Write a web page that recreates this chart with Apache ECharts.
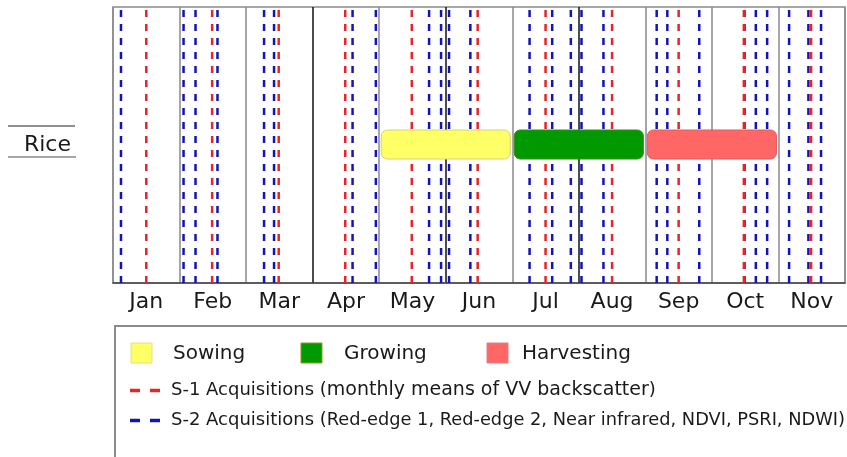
<!DOCTYPE html>
<html>
<head>
<meta charset="utf-8">
<script src="https://cdn.jsdelivr.net/npm/echarts@6.0.0/dist/echarts.min.js"></script>
<style>
  html, body { margin: 0; padding: 0; background: #fff; }
  #chart { width: 847px; height: 457px; }
</style>
</head>
<body>
<div id="chart"></div>
<script>
const chartDom = document.getElementById('chart')
const myChart = echarts.init(chartDom)

// months on the time line, crop row
const months = ['Jan', 'Feb', 'Mar', 'Apr', 'May', 'Jun', 'Jul', 'Aug', 'Sep', 'Oct', 'Nov']
const crops = ['Rice']

// acquisition dates, in months from 1 Jan
const s1Acq = [0.50, 1.49, 2.49, 3.49, 4.49, 5.48, 6.50, 7.50, 8.50, 9.48, 10.49]
const s2Acq = [0.12, 1.06, 1.24, 1.57, 2.27, 2.42, 3.60, 3.95, 4.75, 4.93, 5.05, 5.37,
               6.26, 6.60, 6.88, 7.04, 7.37, 8.17, 8.33, 8.81, 9.49, 9.66, 9.83,
               10.16, 10.45, 10.64]

// crop stages
const stageNames = ['Sowing', 'Growing', 'Harvesting']
const stageStart = [4, 6, 8]
const stageEnd = [6, 8, 10]

const stageColors = ['#ffff66', '#009900', '#ff6666']
const stageBorders = ['#d6d27a', '#3d8a1a', '#d86060']
const s1Color = '#e3262b'
const s2Color = '#1414b4'
const font = 'DejaVu Sans'

// gray / black month separators as in the original
const sepColors = ['#8a8a8a', '#8a8a8a', '#8a8a8a', '#111', '#8a8a8a', '#111',
                   '#8a8a8a', '#111', '#8a8a8a', '#8a8a8a', '#8a8a8a', '#8a8a8a']

function acqLine(color) {
    return function (params, api) {
        const x = api.coord([api.value(0), 0])[0]
        const cs = params.coordSys
        return {
            type: 'line',
            shape: { x1: x, y1: cs.y, x2: x, y2: cs.y + cs.height },
            style: { stroke: color, lineWidth: 2.5, lineDash: [7, 7], lineDashOffset: 11 }
        }
    }
}

function stageRect(params, api) {
    const p0 = api.coord([api.value(0), api.value(2)])
    const p1 = api.coord([api.value(1), api.value(2)])
    const i = params.dataIndex
    return {
        type: 'rect',
        shape: { x: p0[0] + 2, y: p0[1] - 15, width: p1[0] - p0[0] - 4, height: 29, r: 6 },
        style: { fill: stageColors[i], stroke: stageBorders[i], lineWidth: 1 }
    }
}

const stageData = stageNames.map((n, i) => [stageStart[i], stageEnd[i], 0, n])

const textColor = '#1a1a1a'

const option = {
    backgroundColor: '#fff',
    animation: false,
    grid: {
        left: 113, right: 2, top: 7, bottom: 174,
        show: true, borderColor: '#8a8a8a', borderWidth: 1.5
    },
    xAxis: [
        {
            type: 'category',
            data: months,
            boundaryGap: true,
            axisLine: { show: true, lineStyle: { color: '#444', width: 1.5 } },
            axisTick: { show: false },
            axisLabel: { fontFamily: font, fontSize: 22, color: textColor, margin: 8 },
            splitLine: { show: true, lineStyle: { color: sepColors, width: 1.5 } }
        },
        {
            type: 'value', min: 0, max: 11, show: false
        }
    ],
    yAxis: {
        type: 'category',
        data: crops,
        axisLine: { show: false },
        axisTick: { show: false },
        splitLine: { show: false },
        axisLabel: { fontFamily: font, fontSize: 22, color: textColor, margin: 42, padding: [0, 0, 4, 0] }
    },
    series: [
        {
            name: 'S-2 Acquisitions', type: 'custom', xAxisIndex: 1, z: 2,
            renderItem: acqLine(s2Color),
            data: s2Acq.map(v => [v, 0]),
            encode: { x: 0, y: 1 }
        },
        {
            name: 'S-1 Acquisitions', type: 'custom', xAxisIndex: 1, z: 2,
            renderItem: acqLine(s1Color),
            data: s1Acq.map(v => [v, 0]),
            encode: { x: 0, y: 1 }
        },
        {
            name: 'Stages', type: 'custom', xAxisIndex: 1, z: 3,
            renderItem: stageRect,
            data: stageData,
            encode: { x: [0, 1], y: 2 }
        }
    ],
    graphic: [
        // rules around the crop name
        { type: 'line', shape: { x1: 8, y1: 126, x2: 75, y2: 126 }, style: { stroke: '#222', lineWidth: 1.2 } },
        { type: 'line', shape: { x1: 8, y1: 157, x2: 76, y2: 157 }, style: { stroke: '#888', lineWidth: 1.5 } },

        // legend box
        { type: 'rect', shape: { x: 115, y: 326, width: 760, height: 200 },
          style: { fill: '#fff', stroke: '#8a8a8a', lineWidth: 2 } },

        { type: 'rect', shape: { x: 131, y: 343, width: 21, height: 20 }, style: { fill: stageColors[0], stroke: '#e4df8a', lineWidth: 1 } },
        { type: 'text', x: 173, y: 354, style: { text: stageNames[0], font: '20px DejaVu Sans', fill: textColor, verticalAlign: 'middle' } },
        { type: 'rect', shape: { x: 301, y: 343, width: 21, height: 20 }, style: { fill: stageColors[1], stroke: '#8c9a20', lineWidth: 1 } },
        { type: 'text', x: 344, y: 354, style: { text: stageNames[1], font: '20px DejaVu Sans', fill: textColor, verticalAlign: 'middle' } },
        { type: 'rect', shape: { x: 487, y: 343, width: 21, height: 20 }, style: { fill: stageColors[2], stroke: '#e08080', lineWidth: 1 } },
        { type: 'text', x: 522, y: 354, style: { text: stageNames[2], font: '20px DejaVu Sans', fill: textColor, verticalAlign: 'middle' } },

        { type: 'line', shape: { x1: 130, y1: 390.5, x2: 162, y2: 390.5 }, style: { stroke: s1Color, lineWidth: 3.3, lineDash: [10, 10] } },
        { type: 'text', x: 171, y: 390, style: {
            text: '{a|S-1 Acquisitions (}{b|monthly means of VV backscatter}{a|)}',
            verticalAlign: 'middle',
            rich: {
                a: { fontFamily: font, fontSize: 18, fill: textColor },
                b: { fontFamily: font, fontSize: 19, fill: textColor }
            }
        } },
        { type: 'line', shape: { x1: 130, y1: 420.5, x2: 162, y2: 420.5 }, style: { stroke: s2Color, lineWidth: 3.3, lineDash: [10, 10] } },
        { type: 'text', x: 171, y: 420, style: {
            text: '{a|S-2 Acquisitions (}{b|Red-edge 1, Red-edge 2, Near infrared, NDVI, PSRI, NDWI}{a|)}',
            verticalAlign: 'middle',
            rich: {
                a: { fontFamily: font, fontSize: 18, fill: textColor },
                b: { fontFamily: font, fontSize: 17.8, fill: textColor }
            }
        } }
    ]
};

option && myChart.setOption(option);
</script>
</body>
</html>
